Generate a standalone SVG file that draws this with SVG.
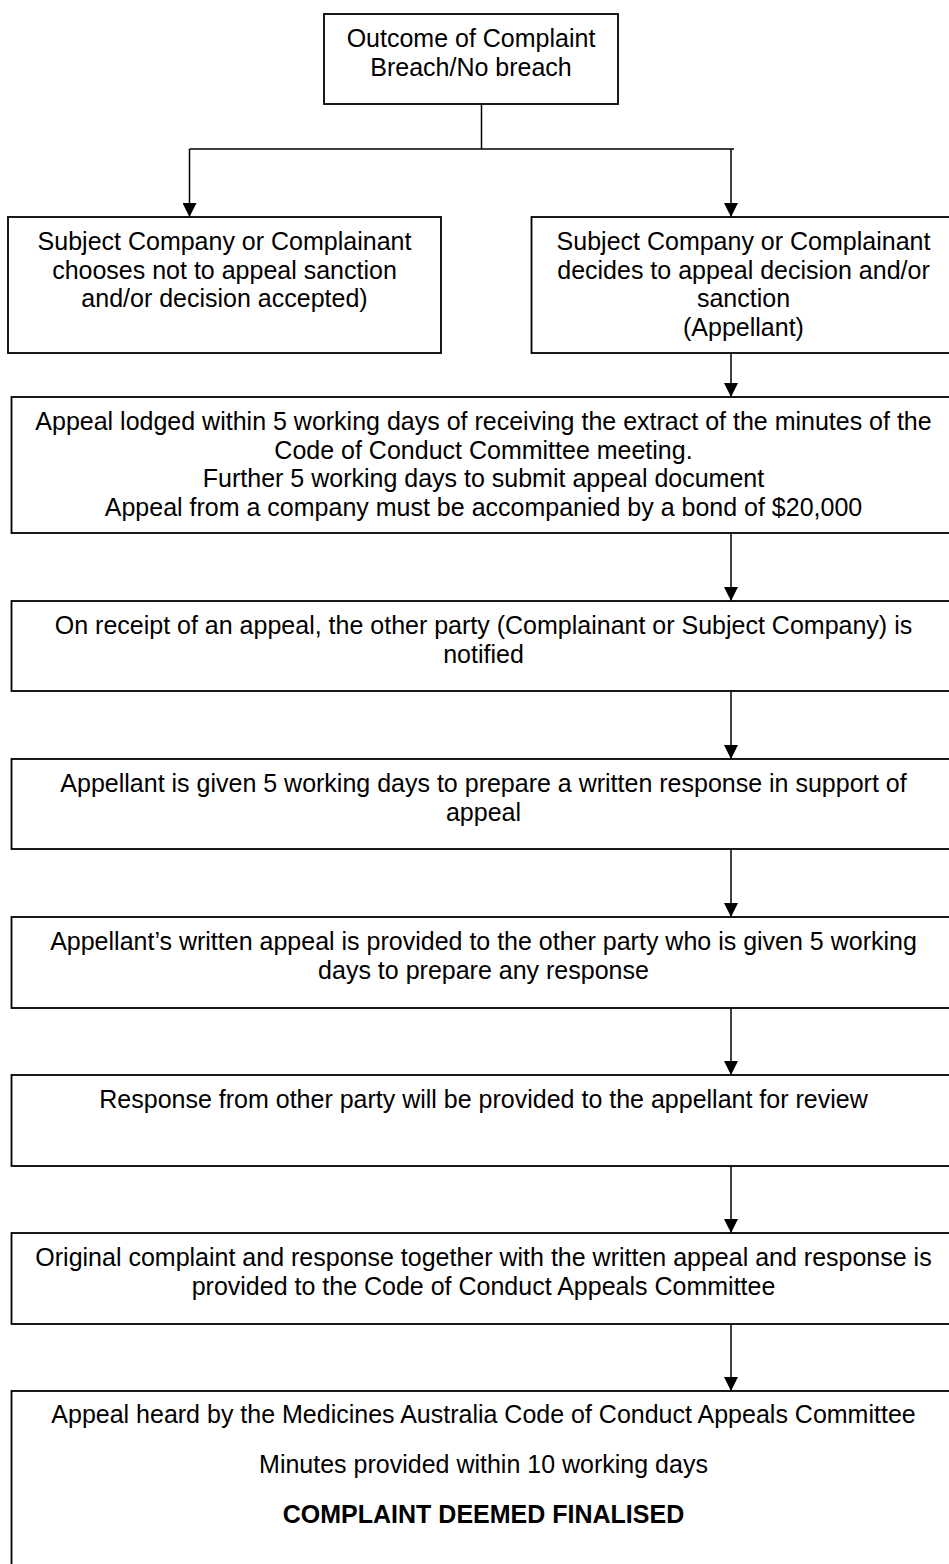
<svg xmlns="http://www.w3.org/2000/svg" width="949" height="1564" viewBox="0 0 949 1564">
  <style>
    .box { fill: #ffffff; stroke: #000000; stroke-width: 1.8; }
    .t { font-family: "Liberation Sans", Arial, sans-serif; font-size: 25px; fill: #000000; text-anchor: middle; }
    .b { font-weight: bold; }
    .c { fill: none; stroke: #000000; stroke-width: 1.5; }
  </style>
  <defs>
    <marker id="arr" markerUnits="userSpaceOnUse" markerWidth="14" markerHeight="14" refX="14" refY="7" orient="auto">
      <path d="M0,0 L14,7 L0,14 Z" fill="#000000"/>
    </marker>
  </defs>
  <rect x="0" y="0" width="949" height="1564" fill="#ffffff"/>

  <g id="connectors">
    <path class="c" d="M481.5,104 V149"/>
    <path class="c" d="M189.5,149 H734"/>
    <path class="c" d="M189.5,149 V217" marker-end="url(#arr)"/>
    <path class="c" d="M731,149 V217" marker-end="url(#arr)"/>
    <path class="c" d="M731,353 V397" marker-end="url(#arr)"/>
    <path class="c" d="M731,533 V601" marker-end="url(#arr)"/>
    <path class="c" d="M731,691 V759" marker-end="url(#arr)"/>
    <path class="c" d="M731,849 V917" marker-end="url(#arr)"/>
    <path class="c" d="M731,1008 V1075" marker-end="url(#arr)"/>
    <path class="c" d="M731,1166 V1233" marker-end="url(#arr)"/>
    <path class="c" d="M731,1324 V1391" marker-end="url(#arr)"/>
  </g>

  <g id="outcome">
    <rect class="box" x="324" y="14" width="294" height="90"/>
    <text class="t" x="471" y="47">Outcome of Complaint</text>
    <text class="t" x="471" y="75.5">Breach/No breach</text>
  </g>

  <g id="no-appeal">
    <rect class="box" x="8" y="217" width="433" height="136"/>
    <text class="t" x="224.5" y="250">Subject Company or Complainant</text>
    <text class="t" x="224.5" y="278.5">chooses not to appeal sanction</text>
    <text class="t" x="224.5" y="307">and/or decision accepted)</text>
  </g>

  <g id="appeal">
    <rect class="box" x="531.5" y="217" width="425" height="136"/>
    <text class="t" x="743.5" y="250">Subject Company or Complainant</text>
    <text class="t" x="743.5" y="278.5">decides to appeal decision and/or</text>
    <text class="t" x="743.5" y="307">sanction</text>
    <text class="t" x="743.5" y="335.5">(Appellant)</text>
  </g>

  <g id="lodged">
    <rect class="box" x="11.5" y="397" width="945" height="136"/>
    <text class="t" x="483.5" y="430">Appeal lodged within 5 working days of receiving the extract of the minutes of the</text>
    <text class="t" x="483.5" y="458.5">Code of Conduct Committee meeting.</text>
    <text class="t" x="483.5" y="487">Further 5 working days to submit appeal document</text>
    <text class="t" x="483.5" y="515.5">Appeal from a company must be accompanied by a bond of $20,000</text>
  </g>

  <g id="notified">
    <rect class="box" x="11.5" y="601" width="945" height="90"/>
    <text class="t" x="483.5" y="634">On receipt of an appeal, the other party (Complainant or Subject Company) is</text>
    <text class="t" x="483.5" y="662.5">notified</text>
  </g>

  <g id="prepare">
    <rect class="box" x="11.5" y="759" width="945" height="90"/>
    <text class="t" x="483.5" y="792">Appellant is given 5 working days to prepare a written response in support of</text>
    <text class="t" x="483.5" y="820.5">appeal</text>
  </g>

  <g id="provided">
    <rect class="box" x="11.5" y="917" width="945" height="91"/>
    <text class="t" x="483.5" y="950">Appellant’s written appeal is provided to the other party who is given 5 working</text>
    <text class="t" x="483.5" y="978.5">days to prepare any response</text>
  </g>

  <g id="review">
    <rect class="box" x="11.5" y="1075" width="945" height="91"/>
    <text class="t" x="483.5" y="1108">Response from other party will be provided to the appellant for review</text>
  </g>

  <g id="committee">
    <rect class="box" x="11.5" y="1233" width="945" height="91"/>
    <text class="t" x="483.5" y="1266">Original complaint and response together with the written appeal and response is</text>
    <text class="t" x="483.5" y="1294.5">provided to the Code of Conduct Appeals Committee</text>
  </g>

  <g id="heard">
    <rect class="box" x="11.5" y="1391" width="945" height="200"/>
    <text class="t" x="483.5" y="1423">Appeal heard by the Medicines Australia Code of Conduct Appeals Committee</text>
    <text class="t" x="483.5" y="1473">Minutes provided within 10 working days</text>
    <text class="t b" x="483.5" y="1523">COMPLAINT DEEMED FINALISED</text>
  </g>
</svg>
